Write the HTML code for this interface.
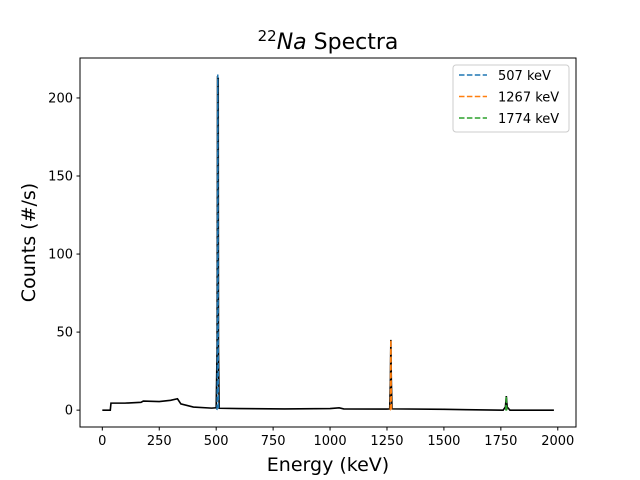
<!DOCTYPE html>
<html><head><meta charset="utf-8"><style>
body{margin:0;background:#fff;}
svg{display:block;font-family:"DejaVu Sans","Liberation Sans",sans-serif;}
</style></head><body>
<svg id="chart" width="640" height="480">
<rect width="640" height="480" fill="#fff"/>
<g id="plot"></g>
<g id="axes"></g>
</svg>
<script>
const energies = [0,35,38,100,170,180,250,300,330,345,400,480,500,504,506,507,509,510,513,600,800,1000,1040,1060,1250,1262,1265,1267,1269,1272,1500,1600,1760,1770,1774,1778,1790,1983];
const counts   = [0,0,4.5,4.5,5,5.8,5.5,6.3,7.3,4,2,1.3,1.5,40,214,212,213,40,1.2,1,0.8,1,1.5,0.8,0.7,0.8,20,45,20,0.8,0.5,0.3,0,2,9,2,0,0];
const peakCenters = [507,1267,1774];
const peakHeights = [215,45,9];
const peakLabels = ["507 keV","1267 keV","1774 keV"];
const peakColors = ["#1f77b4","#ff7f0e","#2ca02c"];
const xTicks = [0,250,500,750,1000,1250,1500,1750,2000];
const yTicks = [0,50,100,150,200];

const L=80,R=576,T=58,B=427;
const xmin=-98,xmax=2080,ymin=-10.8,ymax=225.6;
const X=v=>L+(v-xmin)/(xmax-xmin)*(R-L);
const Y=v=>B-(v-ymin)/(ymax-ymin)*(B-T);
const NS="http://www.w3.org/2000/svg";
function mk(tag,attrs,parent){const e=document.createElementNS(NS,tag);for(const k in attrs)e.setAttribute(k,attrs[k]);parent.appendChild(e);return e;}
const plot=document.getElementById('plot'), axes=document.getElementById('axes');

const sp=mk('polyline',{points:energies.map((e,i)=>X(e)+','+Y(counts[i])).join(' '),fill:'none',stroke:'#000','stroke-width':1.6},plot);



peakCenters.forEach((c,i)=>{
  const pts=[];
  for(let d=-4;d<=4;d+=0.25){pts.push(X(c+d)+','+Y(peakHeights[i]*Math.exp(-d*d/(2*1.0*1.0))));}
  const p=mk('polyline',{points:pts.join(' '),fill:'none',stroke:peakColors[i],'stroke-width':1.5,'stroke-dasharray':'5.5,2.4'},plot);
  
  
});

const frame=mk('rect',{x:L,y:T,width:R-L,height:B-T,fill:'none',stroke:'#000','stroke-width':1},axes);



xTicks.forEach(t=>{
  mk('line',{x1:X(t),x2:X(t),y1:B,y2:B+3.5,stroke:'#000'},axes);
  const tx=mk('text',{x:X(t),y:B+18,'text-anchor':'middle','font-size':13},axes);
  tx.textContent=t;
  
  
});
yTicks.forEach(t=>{
  mk('line',{x1:L-3.5,x2:L,y1:Y(t),y2:Y(t),stroke:'#000'},axes);
  const tx=mk('text',{x:L-7,y:Y(t)+4.5,'text-anchor':'end','font-size':13},axes);
  tx.textContent=t;
  
  
});

const xt=mk('text',{x:(L+R)/2,y:471,'text-anchor':'middle','font-size':19},axes);
xt.textContent='Energy (keV)';


const yt=mk('text',{x:0,y:0,'text-anchor':'middle','font-size':19,transform:'translate(35,'+((T+B)/2)+') rotate(-90)'},axes);
yt.textContent='Counts (#/s)';


const ti=mk('text',{x:328,y:49,'text-anchor':'middle','font-size':22},axes);
ti.innerHTML='<tspan font-size="15" dy="-8">22</tspan><tspan dy="8" font-style="italic">Na</tspan><tspan> Spectra</tspan>';



const lg=mk('g',{},axes);


mk('rect',{x:453,y:65,width:116,height:67,rx:3,fill:'#fff',stroke:'#ccc'},lg);
peakLabels.forEach((lab,i)=>{
  const y=75+i*21.5;
  const ln=mk('line',{x1:459,x2:487,y1:y,y2:y,stroke:peakColors[i],'stroke-width':1.5,'stroke-dasharray':'5.5,2.4'},lg);
  
  
  const tx=mk('text',{x:498,y:y+5,'font-size':13},lg);
  tx.textContent=lab;
  
  
});
</script>
</body></html>
